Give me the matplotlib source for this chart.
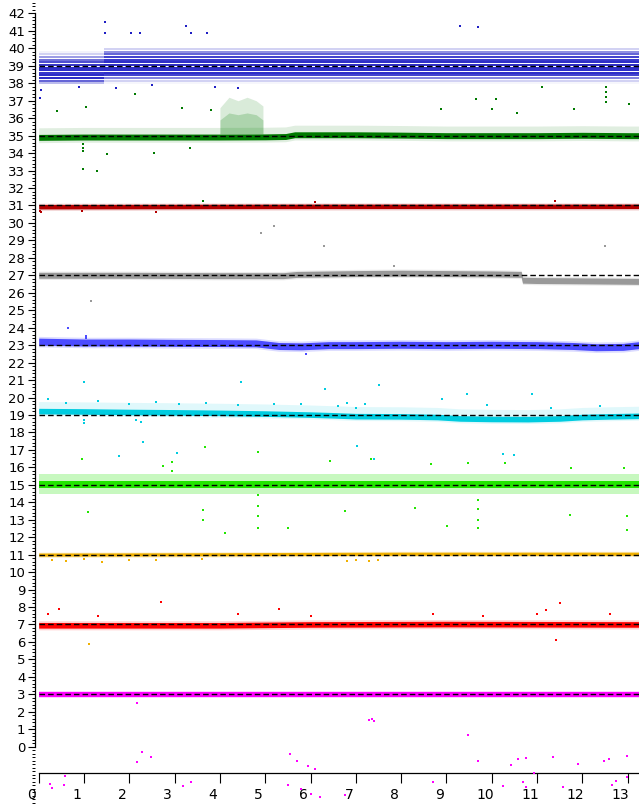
import matplotlib
matplotlib.use("Agg")
import matplotlib.pyplot as plt
import matplotlib.transforms as mtransforms
from matplotlib.ticker import MultipleLocator

plt.rcParams['font.family'] = ['DejaVu Sans']

XMAX = 13.25
ref_levels = [39, 35, 31, 27, 23, 19, 15, 11, 7, 3]

# ---- top blue series (quantised values) ----
blue_top_levels = [38.0, 38.15, 38.3, 38.45, 38.6, 38.75, 38.9, 39.05, 39.2, 39.35, 39.5, 39.65, 39.8, 39.95]
blue_top_dens_left = [0.3, 0.7, 0.95, 0.95, 0.9, 0.95, 0.95, 0.9, 0.8, 0.65, 0.45, 0.2, 0.05, 0.0]
blue_top_dens_right = [0.04, 0.2, 0.55, 0.85, 0.95, 0.95, 0.95, 0.95, 0.95, 0.9, 0.85, 0.7, 0.5, 0.2]
blue_top_split = 1.45
blue_top_ox = [0.03, 0.05, 1.46, 1.46, 2.03, 2.23, 3.37, 3.72, 3.25, 9.3, 9.7, 0.9, 1.7, 2.5, 3.9, 4.4]
blue_top_oy = [37.15, 37.6, 41.52, 40.86, 40.9, 40.9, 40.9, 40.9, 41.3, 41.3, 41.2, 37.8, 37.75, 37.9, 37.8, 37.75]

# ---- dark green series ----
green_x = [0, 1, 2, 3, 4, 5, 5.45, 5.65, 6, 7, 8, 9, 10, 11, 12, 13, 13.25]
green_c = [34.9, 34.92, 34.92, 34.92, 34.92, 34.93, 34.95, 35.05, 35.05, 35.05, 35.03, 35.0, 35.0, 35.0, 35.02, 35.0, 35.0]
green_blob_x = [4.0, 4.2, 4.4, 4.6, 4.8, 4.95]
green_blob_top = [36.6, 37.2, 37.0, 37.2, 37.0, 36.7]
green_blob_dense_top = [35.9, 36.3, 36.2, 36.3, 36.2, 35.9]
green_ox = [0.98, 0.98, 0.98, 0.98, 1.28, 1.05, 1.5, 2.13, 3.16, 3.81, 0.4, 2.54, 3.33, 12.52, 12.52, 12.52, 12.52,
            11.1, 13.03, 11.82, 9.65, 10.09, 10.0, 8.88, 10.56, 3.62]
green_oy = [34.5, 34.3, 34.1, 33.07, 33.0, 36.65, 33.95, 37.36, 36.6, 36.47, 36.4, 34.0, 34.27, 37.8, 37.5, 37.2, 36.9,
            37.8, 36.8, 36.55, 37.1, 37.1, 36.5, 36.55, 36.3, 31.25]

# ---- dark red series ----
darkred_x = [0, 3, 6, 9, 13.25]
darkred_c = [30.93, 30.94, 30.95, 30.95, 30.95]
darkred_ox = [0.03, 0.05, 0.96, 2.6, 6.1, 11.4]
darkred_oy = [30.7, 30.6, 30.7, 30.65, 31.2, 31.25]

# ---- grey series ----
grey_x = [0, 2, 4, 5.4, 5.7, 7, 8, 9, 10, 10.65, 10.68, 11, 12, 13.25]
grey_c = [27.0, 27.0, 26.98, 26.98, 27.05, 27.1, 27.12, 27.1, 27.08, 27.05, 26.72, 26.7, 26.68, 26.65]
grey_ox = [1.15, 4.9, 5.2, 6.3, 7.85, 12.5]
grey_oy = [25.5, 29.4, 29.8, 28.7, 27.53, 28.67]

# ---- blue series ----
blue_x = [0, 1, 2, 3, 4, 4.8, 5.3, 5.8, 6.4, 7, 8, 9, 10, 11, 11.8, 12.3, 12.9, 13.25]
blue_c = [23.2, 23.15, 23.15, 23.13, 23.12, 23.1, 22.95, 22.93, 23.0, 23.0, 23.02, 23.0, 23.02, 23.0, 22.95, 22.88, 22.9, 23.0]
blue_ox = [1.05, 1.05, 0.65, 5.9]
blue_oy = [23.5, 23.4, 24.0, 22.5]

# ---- cyan series ----
cyan_x = [0, 1, 2, 3, 4, 5, 6, 6.5, 7, 8, 8.8, 9.3, 10, 10.8, 11.5, 12, 12.6, 13.25]
cyan_c = [19.22, 19.2, 19.17, 19.15, 19.12, 19.08, 19.02, 18.98, 18.93, 18.92, 18.88, 18.8, 18.77, 18.76, 18.8, 18.88, 18.92, 18.95]
cyan_ox = [0.2, 0.6, 1.3, 2.0, 2.6, 3.1, 3.7, 4.4, 5.2, 5.8, 6.6, 6.8, 7.0, 7.2, 8.9, 12.4, 0.99, 4.47, 6.31, 7.52,
           9.46, 10.88, 7.02, 10.25, 10.48, 7.4, 2.3, 3.05, 1.77, 1.0, 1.0, 2.15, 2.25, 9.9, 11.3]
cyan_oy = [19.9, 19.7, 19.8, 19.6, 19.75, 19.6, 19.7, 19.55, 19.6, 19.65, 19.5, 19.7, 19.4, 19.6, 19.9, 19.5, 20.87, 20.9,
           20.49, 20.72, 20.2, 20.2, 17.22, 16.77, 16.72, 16.5, 17.45, 16.84, 16.67, 18.7, 18.55, 18.7, 18.6, 19.55, 19.4]

# ---- light green series ----
lgreen_x = [0, 13.25]
lgreen_c = [15.0, 15.0]
lgreen_ox = [3.62, 3.62, 4.11, 4.84, 4.84, 4.84, 4.84, 1.09, 5.5, 9.7, 9.7, 9.7, 9.7, 12.98, 12.98, 11.73, 6.77, 9.02, 8.31,
             0.96, 4.83, 3.67, 2.94, 2.94, 2.75, 6.42, 7.34, 8.65, 9.48, 10.3, 11.74, 12.92]
lgreen_oy = [13.55, 13.0, 12.26, 14.4, 13.8, 13.2, 12.5, 13.46, 12.52, 14.1, 13.6, 13.0, 12.5, 13.2, 12.4, 13.25, 13.5,
             12.65, 13.66, 16.48, 16.88, 17.16, 16.3, 15.8, 16.1, 16.38, 16.5, 16.2, 16.25, 16.25, 15.96, 15.96]

# ---- orange series ----
orange_x = [0, 4, 8, 13.25]
orange_c = [11.0, 11.02, 11.05, 11.05]
orange_ox = [0.3, 0.6, 1.0, 1.4, 2.0, 2.6, 6.8, 7.0, 7.3, 7.5, 1.1, 3.6]
orange_oy = [10.7, 10.65, 10.75, 10.6, 10.7, 10.72, 10.62, 10.7, 10.65, 10.68, 5.88, 10.75]

# ---- red series ----
red_x = [0, 4, 6, 9, 13.25]
red_c = [6.95, 6.95, 7.0, 7.02, 7.0]
red_ox = [0.2, 0.45, 1.3, 2.7, 4.4, 5.3, 6.0, 8.7, 9.8, 11.0, 11.2, 11.5, 12.6, 11.42]
red_oy = [7.6, 7.9, 7.5, 8.3, 7.6, 7.9, 7.5, 7.6, 7.5, 7.6, 7.8, 8.2, 7.6, 6.1]

# ---- magenta series ----
magenta_x = [0, 13.25]
magenta_c = [2.98, 2.98]
magenta_ox = [2.16, 2.27, 2.47, 2.16, 0.25, 0.3, 0.58, 0.55, 3.19, 3.37, 9.47, 9.69, 10.59, 10.75, 10.42, 11.36, 11.91,
              12.48, 12.59, 12.99, 10.68, 10.75, 10.94, 11.57, 10.24, 8.7, 12.74, 12.66, 12.98, 5.55, 5.7, 5.95,
              6.1, 5.8, 6.0, 6.2, 5.5, 7.35, 7.4, 7.3, 6.75]
magenta_oy = [2.51, -0.33, -0.59, -0.86, -2.14, -2.35, -1.7, -2.2, -2.25, -2.05, 0.67, -0.8, -0.71, -0.67, -1.05, -0.61,
              -0.99, -0.8, -0.69, -0.53, -2.05, -2.33, -1.51, -2.3, -2.25, -2.05, -1.95, -2.18, -1.76, -0.4, -0.8,
              -1.1, -1.3, -2.4, -2.7, -2.9, -2.2, 1.6, 1.45, 1.5, -2.77]

# series: (x, centre, core half width, halo below, halo above, halo alpha, colour, outlier x, outlier y)
series = [
    (green_x, green_c, 0.17, 0.3, 0.55, 0.12, '#007a00', green_ox, green_oy),
    (darkred_x, darkred_c, 0.13, 0.22, 0.2, 0.15, '#b40000', darkred_ox, darkred_oy),
    (grey_x, grey_c, 0.17, 0.24, 0.24, 0.2, '#999999', grey_ox, grey_oy),
    (blue_x, blue_c, 0.2, 0.3, 0.3, 0.2, '#4b4bff', blue_ox, blue_oy),
    (cyan_x, cyan_c, 0.16, 0.25, 0.55, 0.12, '#00cce0', cyan_ox, cyan_oy),
    (lgreen_x, lgreen_c, 0.2, 0.55, 0.6, 0.25, '#22e600', lgreen_ox, lgreen_oy),
    (orange_x, orange_c, 0.09, 0.16, 0.14, 0.2, '#f0b000', orange_ox, orange_oy),
    (red_x, red_c, 0.16, 0.26, 0.26, 0.18, '#ff0000', red_ox, red_oy),
    (magenta_x, magenta_c, 0.13, 0.19, 0.19, 0.2, '#ff00ff', magenta_ox, magenta_oy),
]

fig = plt.figure(figsize=(6.39, 8.06), dpi=100)
ax = fig.add_axes([0, 0, 1, 1])
ax.set_xlim(-0.854, XMAX)
ax.set_ylim(-3.40, 42.77)

# top blue quantised rows
for lev, dl, dr in zip(blue_top_levels, blue_top_dens_left, blue_top_dens_right):
    if dl > 0:
        ax.plot([0, blue_top_split], [lev, lev], color='#1e1ec4', lw=1.4, alpha=dl, solid_capstyle='butt', zorder=2)
    if dr > 0:
        ax.plot([blue_top_split, XMAX], [lev, lev], color='#1e1ec4', lw=1.4, alpha=dr, solid_capstyle='butt', zorder=2)
ax.scatter(blue_top_ox, blue_top_oy, s=2, marker='s', color='#1e1ec4', linewidths=0, zorder=3)

# green blob
ax.fill_between(green_blob_x, 35.1, green_blob_top, color='#007a00', alpha=0.15, lw=0, zorder=2)
ax.fill_between(green_blob_x, 35.1, green_blob_dense_top, color='#007a00', alpha=0.2, lw=0, zorder=2)

for x, c, core, hb, ha, halpha, col, ox, oy in series:
    lo = [v - hb for v in c]
    hi = [v + ha for v in c]
    ax.fill_between(x, lo, hi, color=col, alpha=halpha, lw=0, zorder=2)
    ax.fill_between(x, [v - core for v in c], [v + core for v in c], color=col, alpha=1.0, lw=0, zorder=3)
    ax.scatter(ox, oy, s=2, marker='s', color=col, linewidths=0, zorder=3)

for lev in ref_levels:
    ax.plot([0, XMAX], [lev, lev], color='black', lw=1.0, linestyle=(0, (4.0, 2.2)), zorder=5)

for side in ['top', 'right']:
    ax.spines[side].set_visible(False)
ax.spines['left'].set_position(('data', -0.08))
ax.spines['left'].set_bounds(0, 42)
ax.spines['bottom'].set_position(('data', -1.51))
ax.spines['bottom'].set_bounds(0, XMAX)
for side in ['left', 'bottom']:
    ax.spines[side].set_linewidth(0.9)

ax.yaxis.set_minor_locator(MultipleLocator(0.2))
ax.set_yticks(range(0, 43))
ax.set_xticks(range(0, 14))
ax.tick_params(axis='y', which='major', direction='out', length=5, width=0.8, pad=2, labelsize=9.5)
ax.tick_params(axis='y', which='minor', direction='out', length=2.5, width=0.7)
ax.tick_params(axis='x', which='major', direction='out', length=7, width=0.8, pad=4, labelsize=10)
ax.patch.set_visible(False)

offset = mtransforms.ScaledTranslation(-7 / 100, 0, fig.dpi_scale_trans)
for lbl in ax.get_xticklabels():
    lbl.set_transform(lbl.get_transform() + offset)

fig.savefig('out.png', dpi=100)
